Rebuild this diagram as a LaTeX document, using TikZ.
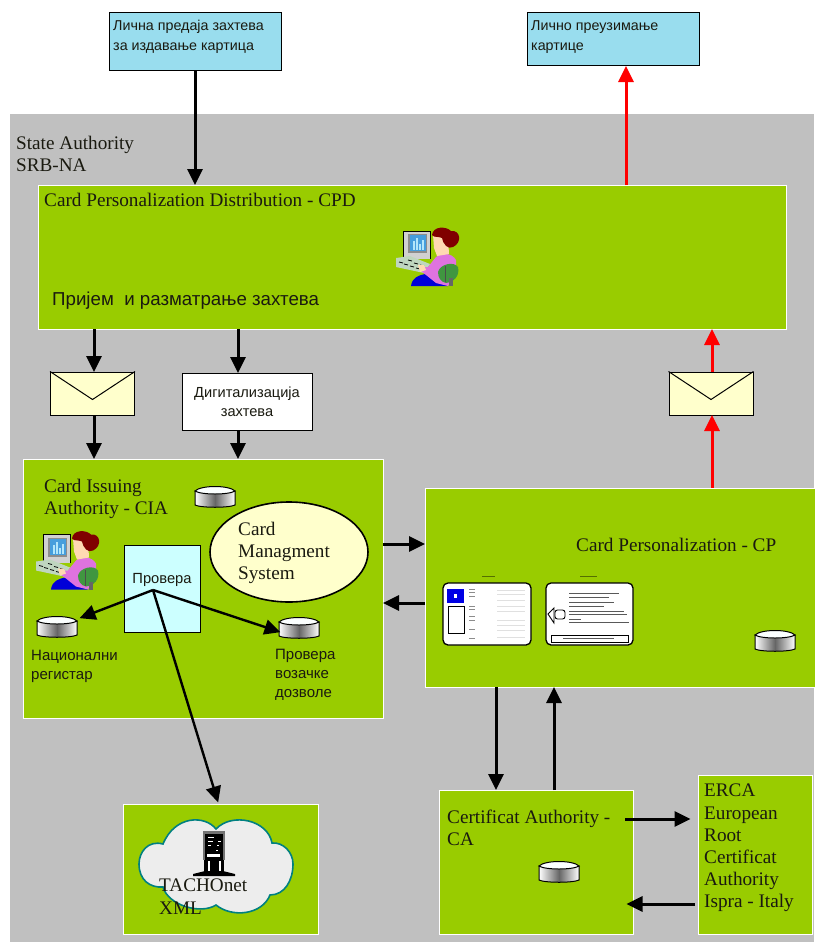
\documentclass[tikz,border=0pt]{standalone}
\usepackage{fontspec}
\setmainfont{Liberation Serif}
\setsansfont{Liberation Sans}
\usetikzlibrary{arrows.meta,shapes.geometric,calc}
\definecolor{grn}{HTML}{99CC00}
\definecolor{gry}{HTML}{C0C0C0}
\definecolor{skyb}{HTML}{99DDEE}
\definecolor{paleb}{HTML}{CCFFFF}
\definecolor{paley}{HTML}{FFFFCC}
\definecolor{inkt}{HTML}{1A1A10}
\tikzset{
  panel/.style={draw=white,line width=1pt,fill=grn,rectangle,inner sep=0pt},
  notebox/.style={draw=black,line width=1pt,fill=skyb,rectangle,inner sep=0pt},
  envbox/.style={draw=black,line width=1pt,fill=paley,rectangle,inner sep=0pt,minimum width=84pt,minimum height=43pt},
  serif label/.style={font=\fontsize{19.2}{22.2}\selectfont\rmfamily,text=inkt,inner sep=0pt,align=left},
  sans label/.style={font=\fontsize{14.3}{20}\selectfont\sffamily,text=inkt,inner sep=0pt,align=left},
  small label/.style={font=\fontsize{15}{19}\selectfont\sffamily,text=inkt,inner sep=0pt,align=left},
  blk/.style={draw=black,line width=3pt,-{Triangle[length=16pt,width=15pt]},shorten >=-0.5pt},
  redl/.style={draw=red,line width=3pt,-{Triangle[length=16pt,width=15pt]},shorten >=-0.5pt},
  dbase/.pic={
    \path[draw=black,line width=1pt,left color=white,right color=white,middle color=black!60]
      (-20,-6) -- (-20,8) .. controls (-14,11) and (14,11) .. (20,8) -- (20,-6) -- cycle;
    \path[draw=black,line width=1pt,fill=white!92!paleb]
      (-20,-6) .. controls (-14,-12) and (14,-12) .. (20,-6) .. controls (14,-2) and (-14,-2) .. (-20,-6) -- cycle;
  },
  operator/.pic={
    % monitor
    \fill[black!18] (23,11) rectangle (50,39);
    \draw[black,line width=.7pt] (23,11) -- (50,11) -- (50,39);
    \draw[black,line width=.7pt] (23,11) -- (23,38);
    \fill[black!45] (28,14) rectangle (47,33);
    \fill[cyan!70!blue!75] (29.5,15) rectangle (46,31);
    \foreach \q/\h in {33/21,36/18,39/24,42/20}{\fill[white!70!cyan] (\q,30) rectangle (\q+2,\h);}
    % keyboard
    \fill[green!35!black!25] (16,38) -- (30,36) -- (50,44) -- (44,53) -- (16,47) -- cycle;
    \foreach \p in {(19,42),(24,44),(30,46),(36,48),(28,40),(34,43),(40,45)}{\draw[black,line width=.8pt] \p -- ++(4,1);}
    % skirt
    \fill[blue!85!black] (31,66) .. controls (32,58) and (38,55) .. (46,54) -- (62,58) -- (68,66) -- cycle;
    % body
    \fill[violet!45!magenta!55] (39,47) -- (48,47) -- (56,37) .. controls (62,32) and (72,33) .. (76,40) .. controls (77,50) and (72,58) .. (68,66) -- (56,63) -- (46,55) -- (42,52) -- cycle;
    \fill[orange!30!white] (38,45) -- (44,45) -- (46,50) -- (40,52) -- cycle;
    % chair
    \fill[green!45!black!75] (58,52) .. controls (60,44) and (74,41) .. (78,47) .. controls (80,56) and (74,62) .. (66,63) .. controls (61,62) and (58,58) .. (58,52) -- cycle;
    \draw[black!70,line width=.7pt] (65,46) -- (65,62);
    \fill[black!60] (69,58) rectangle (73,66);
    % head
    \fill[orange!30!white] (53,15) -- (68,17) -- (69,34) -- (57,36) -- (54,28) -- cycle;
    % hair
    \fill[red!50!black] (52,15) .. controls (53,6) and (66,6) .. (71,11) .. controls (81,10) and (82,23) .. (73,27) .. controls (68,30) and (63,24) .. (62,18) .. controls (58,16) and (54,18) .. (52,15) -- cycle;
  },
}
\begin{document}
\begin{tikzpicture}[x=1pt,y=-1pt]
\useasboundingbox (0,0) rectangle (814,942);
\fill[white] (0,0) rectangle (814,942);
\fill[gry] (10,114) rectangle (814,942);

% top note boxes
\node[notebox,minimum width=172pt,minimum height=58pt] (req) at (195,42) {};
\node[sans label,anchor=north west] (reqt) at (113,20) {Лична предаја захтева\\за издавање картица};
\node[notebox,minimum width=172pt,minimum height=53pt] (pick) at (613,39.5) {};
\node[sans label,anchor=north west] (pickt) at (531,20) {Лично преузимање\\картице};

\node[serif label,anchor=north west] (sa) at (16,136) {State Authority\\SRB-NA};

% panels
\node[panel,minimum width=748pt,minimum height=144pt] (cpd) at (412,257) {};
\node[panel,minimum width=360pt,minimum height=259pt] (cia) at (203,588.5) {};
\node[panel,minimum width=390pt,minimum height=199pt] (cp) at (620,587.5) {};
\node[panel,minimum width=194pt,minimum height=144pt] (ca) at (536,862) {};
\node[panel,minimum width=114pt,minimum height=159pt] (erca) at (755,854.5) {};
\node[panel,minimum width=195pt,minimum height=130pt] (tach) at (220.5,869) {};

\node[serif label,anchor=north west] (cpdt) at (44,193) {Card Personalization Distribution - CPD};
\pic at (380,220) {operator};
\node[anchor=west,inner sep=0pt,font=\fontsize{18.7}{20}\selectfont\sffamily,text=inkt] (cpdr) at (52,301) {Пријем\ \ и разматрање захтева};

% envelopes and digitisation box
\node[envbox] (env1) at (92.5,393.5) {};
\draw[black,line width=1pt] (env1.north west) -- ($(env1.center)+(0,6)$) -- (env1.north east);
\node[envbox] (env2) at (711,393.5) {};
\draw[black,line width=1pt] (env2.north west) -- ($(env2.center)+(0,6)$) -- (env2.north east);
\node[draw=black,line width=1pt,fill=white,minimum width=130pt,minimum height=57pt,inner sep=0pt,
      font=\fontsize{14.6}{19}\selectfont\sffamily,text=inkt,align=center] (dig) at (247,401.5) {Дигитализација\\захтева};

% CIA contents
\node[serif label,anchor=north west] (ciat) at (44,479) {Card Issuing\\Authority - CIA};
\pic at (20,523.5) {operator};
\pic at (215,497) {dbase};
\node[draw=black,line width=1pt,fill=paleb,minimum width=76pt,minimum height=87pt,inner sep=0pt] (prov) at (162,588.5) {};
\node[anchor=center,inner sep=0pt,font=\fontsize{14.7}{18}\selectfont\sffamily,text=inkt] (provt) at (162,580) {Провера};
\coordinate (fork) at (153,590);
\node[ellipse,draw=black,line width=1.6pt,fill=paley,minimum width=158pt,minimum height=100pt,inner sep=0pt] (cms) at (289,552) {};
\node[serif label,anchor=north west] (cmst) at (238,522) {Card\\Managment\\System};
\pic at (57,627) {dbase};
\pic at (299,628) {dbase};
\coordinate (db1) at (80,618);
\coordinate (db2) at (280,632);
\node[small label,anchor=north west] (nreg) at (31,650) {Национални\\регистар};
\node[small label,anchor=north west] (pvd) at (275,649) {Провера\\возачке\\дозволе};

% CP contents
\node[serif label,anchor=north west] (cpt) at (576,538) {Card Personalization - CP};
\fill[black!45!grn] (482,575.5) rectangle (495,577);
\fill[black!45!grn] (580,575.5) rectangle (597,577);
\node[draw=black,line width=1.3pt,fill=white,rounded corners=5pt,minimum width=88pt,minimum height=62pt,inner sep=0pt] (card1) at (487,614) {};
\node[draw=black,line width=1.3pt,fill=white,rounded corners=5pt,minimum width=87pt,minimum height=62pt,inner sep=0pt] (card2) at (589.5,614) {};
\fill[blue!90!black] (447,589) rectangle (464,603);
\fill[white] (454,594) rectangle (457,598);
\draw[black,line width=1pt] (448,606) rectangle (464,633);
\foreach \yy/\xa/\xb in {589/469,592/469,596/469,606/469,609/469,616/469,620/469,629/469,638/469}{\fill[black!45] (\xa,\yy) rectangle ++(6,1);}
\foreach \yy in {590,594,600,606,611,620,625,630,637}{\fill[black!12] (497,\yy) rectangle ++(28,1.2);}
\foreach \yy/\xa/\len in {593/569/50,597/569/40,602/569/45,606/569/35,611/569/55,614/569/58,619/569/12,622/569/60}{\fill[black!65] (\xa,\yy) rectangle ++(\len,1);}
\draw[black,line width=.9pt] (554,608) -- (548,614) -- (554,623) -- cycle;
\draw[black,line width=.9pt,fill=white,rounded corners=2.5pt] (555,610) rectangle (565,619);
\draw[black,line width=1pt] (551,635) rectangle (628,642);
\fill[black!65] (563,637.6) rectangle (614,639.2);
\pic at (775,641) {dbase};

% CA and ERCA contents
\node[serif label,anchor=north west] (cat) at (447,810) {Certificat Authority -\\CA};
\pic at (559,872) {dbase};
\node[serif label,anchor=north west] (ercat) at (704,784) {ERCA\\European\\Root\\Certificat\\Authority\\Ispra - Italy};

% cloud
\path[draw=teal,line width=1.6pt,fill=black!7]
  (216,829) .. controls (205,815) and (175,815) .. (163,844)
  .. controls (148,840) and (139,852) .. (139,864)
  .. controls (139,880) and (150,888) .. (163,887)
  .. controls (168,905) and (200,915) .. (216,905)
  .. controls (232,918) and (262,915) .. (270,895)
  .. controls (285,895) and (293,880) .. (293,864)
  .. controls (293,852) and (283,842) .. (272,843)
  .. controls (268,820) and (232,812) .. (216,829) -- cycle;
\fill[black!55] (203,831) rectangle (225,860);
\fill[black] (205,834) rectangle (223,860);
\fill[black] (204,860) rectangle (224,874);
\foreach \a/\b/\c in {208/837/214,208/841/213,218/841/221,208/845/211,217/845/219,216/850/218}{\fill[white] (\a,\b) rectangle (\c,\b+1.2);}
\fill[white] (207,854) rectangle (220,856.5);
\fill[white] (208,861) rectangle (209.5,873);
\fill[white] (219,861) rectangle (220.5,873);
\fill[black] (193,874) -- (205,871) -- (223,871) -- (235,874) -- (235,876) -- (193,876) -- cycle;
\node[serif label,anchor=north west] (tachot) at (159,879) {TACHOnet\\XML};

% connectors
\draw[blk] (req.south) -- (req.south |- cpd.north);
\coordinate (pk) at (626,185);
\draw[redl] (pk) -- (pk |- pick.south);
\coordinate (a1) at (94,329);
\draw[blk] (a1) -- (a1 |- env1.north);
\coordinate (a2) at (94,415);
\draw[blk] (a2) -- (a2 |- cia.north);
\coordinate (a3) at (238,329);
\draw[blk] (a3) -- (a3 |- dig.north);
\coordinate (a4) at (238,430);
\draw[blk] (a4) -- (a4 |- cia.north);
\coordinate (a5) at (712,488);
\draw[redl] (a5) -- (a5 |- env2.south);
\coordinate (a6) at (712,372);
\draw[redl] (a6) -- (a6 |- cpd.south);
\coordinate (a7) at (383,544);
\draw[blk] (a7) -- (a7 -| cp.west);
\coordinate (a8) at (425,603);
\draw[blk] (a8) -- (a8 -| cia.east);
\coordinate (a9) at (496,687);
\draw[blk] (a9) -- (a9 |- ca.north);
\coordinate (a10) at (554,790);
\draw[blk] (a10) -- (a10 |- cp.south);
\coordinate (a11) at (625,819);
\draw[blk] (a11) -- (690,819);
\coordinate (a12) at (695,904);
\draw[blk] (a12) -- (627,904);
\draw[blk,line width=2.4pt] (fork) -- (db1);
\draw[blk,line width=2.4pt] (fork) -- (db2);
\draw[blk,line width=2.4pt] (fork) -- (218,802);
\end{tikzpicture}
\end{document}
